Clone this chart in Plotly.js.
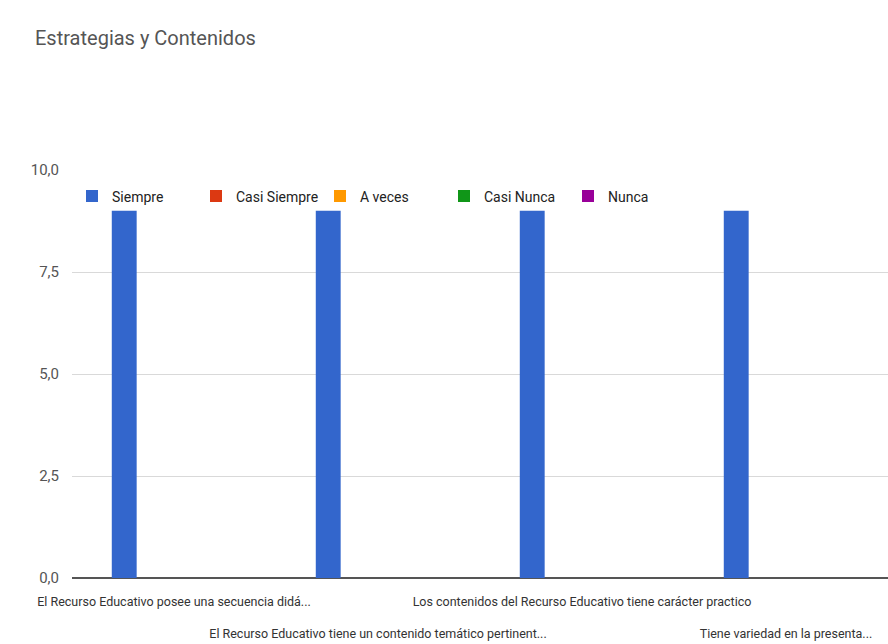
<!DOCTYPE html>
<html><head><meta charset="utf-8">
<script src="https://cdn.plot.ly/plotly-3.0.1.min.js"></script>
<style>html,body{margin:0;padding:0;background:#fff}#c{width:888px;height:644px}</style>
</head><body><div id="c"></div>
<script>
const categories = [
  "El Recurso Educativo posee una secuencia didá...",
  "El Recurso Educativo tiene un contenido temático pertinent...",
  "Los contenidos del Recurso Educativo tiene carácter practico",
  "Tiene variedad en la presenta..."
];
const seriesNames = ["Siempre", "Casi Siempre", "A veces", "Casi Nunca", "Nunca"];
const siempre = [9, 9, 9, 9];
const casiSiempre = [0, 0, 0, 0];
const aVeces = [0, 0, 0, 0];
const casiNunca = [0, 0, 0, 0];
const nunca = [0, 0, 0, 0];
const colors = ["#3366cc", "#dc3912", "#ff9900", "#109618", "#990099"];
const yTicks = [0, 2.5, 5, 7.5, 10];
const yTickText = ["0,0", "2,5", "5,0", "7,5", "10,0"];

const values = [siempre, casiSiempre, aVeces, casiNunca, nunca];
const tickText = categories.map((c, i) => i % 2 === 1 ? "<br><br>" + c : c);
const FONT = "Roboto, 'Liberation Sans', Arial, sans-serif";

const data = seriesNames.map((n, i) => ({
  type: "bar", name: n, x: categories, y: values[i],
  marker: {color: colors[i]}, hoverinfo: "none"
}));

const layout = {
  width: 888, height: 644,
  margin: {l: 72, r: 0, t: 170, b: 66},
  paper_bgcolor: "#fff", plot_bgcolor: "#fff",
  font: {family: FONT, size: 13, color: "#444"},
  title: {text: "Estrategias y Contenidos", x: 35/888, xanchor: "left", y: 1 - 38/644, yanchor: "middle",
          font: {family: FONT, size: 20, color: "#555"}},
  barmode: "group", bargap: 0.39, bargroupgap: 0,
  xaxis: {tickmode: "array", tickvals: categories, ticktext: tickText, ticks: "", showgrid: false,
          tickangle: 0, ticklabelstandoff: 14,
          tickfont: {family: FONT, size: 12.5, color: "#333"}, automargin: false, fixedrange: true},
  yaxis: {range: [0, 10], tickmode: "array", tickvals: yTicks, ticktext: yTickText,
          gridcolor: "#d9d9d9", gridwidth: 1, zeroline: true, zerolinecolor: "#555", zerolinewidth: 2,
          showline: false, ticks: "", ticklen: 0, ticklabelstandoff: 12,
          tickfont: {family: FONT, size: 15, color: "#555"},
          automargin: false, fixedrange: true},
  showlegend: true,
  legend: {orientation: "h", x: 0, xanchor: "left", y: 0.935, yanchor: "middle",
           bgcolor: "rgba(0,0,0,0)", font: {family: FONT, size: 14, color: "#222"},
           itemwidth: 30, traceorder: "normal", entrywidth: 79, entrywidthmode: "pixels"}
};
Plotly.newPlot("c", data, layout, {displayModeBar: false, staticPlot: true});
</script></body></html>
